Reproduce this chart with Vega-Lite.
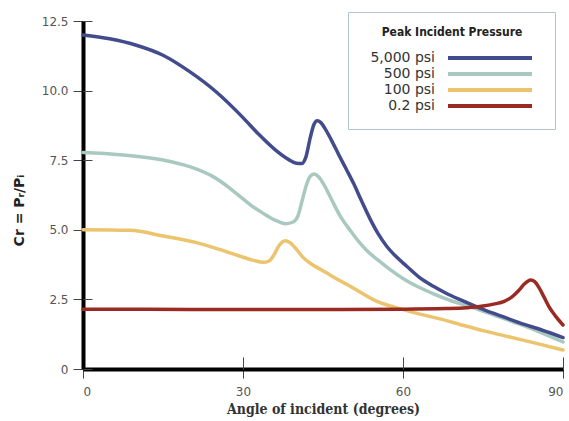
{
  "$schema": "https://vega.github.io/schema/vega-lite/v6.json",
  "width": 480,
  "height": 348,
  "autosize": {"type": "none"},
  "padding": {"left": 83, "top": 21, "right": 6, "bottom": 52},
  "background": "white",
  "config": {"view": {"stroke": null}},
  "data": {"values": [
    {"s":"100 psi","a":0,"v":5.0},{"s":"100 psi","a":8.8,"v":4.98},{"s":"100 psi","a":15,"v":4.78},{"s":"100 psi","a":21.3,"v":4.54},{"s":"100 psi","a":25.7,"v":4.29},{"s":"100 psi","a":29.3,"v":4.06},{"s":"100 psi","a":32,"v":3.9},{"s":"100 psi","a":33.8,"v":3.83},{"s":"100 psi","a":34.9,"v":3.88},{"s":"100 psi","a":35.8,"v":4.1},{"s":"100 psi","a":36.7,"v":4.42},{"s":"100 psi","a":37.9,"v":4.61},{"s":"100 psi","a":38.8,"v":4.54},{"s":"100 psi","a":40.1,"v":4.28},{"s":"100 psi","a":41.3,"v":4.0},{"s":"100 psi","a":42.6,"v":3.8},{"s":"100 psi","a":44.5,"v":3.58},{"s":"100 psi","a":46.3,"v":3.38},{"s":"100 psi","a":50.1,"v":2.97},{"s":"100 psi","a":55.1,"v":2.43},{"s":"100 psi","a":59.4,"v":2.17},{"s":"100 psi","a":63,"v":1.98},{"s":"100 psi","a":66.9,"v":1.8},{"s":"100 psi","a":70.7,"v":1.6},{"s":"100 psi","a":75,"v":1.38},{"s":"100 psi","a":80,"v":1.15},{"s":"100 psi","a":85,"v":0.92},{"s":"100 psi","a":90,"v":0.68},
    {"s":"500 psi","a":0,"v":7.78},{"s":"500 psi","a":7,"v":7.7},{"s":"500 psi","a":15,"v":7.51},{"s":"500 psi","a":20,"v":7.27},{"s":"500 psi","a":24.4,"v":6.91},{"s":"500 psi","a":27.5,"v":6.5},{"s":"500 psi","a":29.3,"v":6.22},{"s":"500 psi","a":31.5,"v":5.88},{"s":"500 psi","a":33.8,"v":5.59},{"s":"500 psi","a":36,"v":5.35},{"s":"500 psi","a":38,"v":5.22},{"s":"500 psi","a":39.4,"v":5.28},{"s":"500 psi","a":40.3,"v":5.5},{"s":"500 psi","a":41.1,"v":6.05},{"s":"500 psi","a":41.9,"v":6.62},{"s":"500 psi","a":42.6,"v":6.92},{"s":"500 psi","a":43.3,"v":7.0},{"s":"500 psi","a":44.2,"v":6.9},{"s":"500 psi","a":45.3,"v":6.58},{"s":"500 psi","a":46.7,"v":6.05},{"s":"500 psi","a":48.2,"v":5.5},{"s":"500 psi","a":50.1,"v":4.98},{"s":"500 psi","a":51.6,"v":4.6},{"s":"500 psi","a":53.2,"v":4.26},{"s":"500 psi","a":55.4,"v":3.9},{"s":"500 psi","a":57.6,"v":3.57},{"s":"500 psi","a":60,"v":3.25},{"s":"500 psi","a":62.6,"v":2.97},{"s":"500 psi","a":65.5,"v":2.72},{"s":"500 psi","a":68.8,"v":2.47},{"s":"500 psi","a":71.5,"v":2.3},{"s":"500 psi","a":74.4,"v":2.12},{"s":"500 psi","a":78,"v":1.87},{"s":"500 psi","a":82,"v":1.6},{"s":"500 psi","a":86,"v":1.3},{"s":"500 psi","a":90,"v":0.97},
    {"s":"5,000 psi","a":0,"v":12.0},{"s":"5,000 psi","a":5,"v":11.86},{"s":"5,000 psi","a":10,"v":11.63},{"s":"5,000 psi","a":15,"v":11.27},{"s":"5,000 psi","a":20,"v":10.68},{"s":"5,000 psi","a":25,"v":9.95},{"s":"5,000 psi","a":30,"v":9.03},{"s":"5,000 psi","a":33,"v":8.42},{"s":"5,000 psi","a":36,"v":7.88},{"s":"5,000 psi","a":38.5,"v":7.53},{"s":"5,000 psi","a":40,"v":7.39},{"s":"5,000 psi","a":41,"v":7.38},{"s":"5,000 psi","a":41.8,"v":7.62},{"s":"5,000 psi","a":42.6,"v":8.3},{"s":"5,000 psi","a":43.3,"v":8.78},{"s":"5,000 psi","a":43.9,"v":8.92},{"s":"5,000 psi","a":44.6,"v":8.85},{"s":"5,000 psi","a":45.5,"v":8.6},{"s":"5,000 psi","a":46.5,"v":8.25},{"s":"5,000 psi","a":48,"v":7.68},{"s":"5,000 psi","a":49.3,"v":7.2},{"s":"5,000 psi","a":50.7,"v":6.68},{"s":"5,000 psi","a":52.2,"v":6.05},{"s":"5,000 psi","a":53.8,"v":5.4},{"s":"5,000 psi","a":55.3,"v":4.87},{"s":"5,000 psi","a":56.9,"v":4.42},{"s":"5,000 psi","a":58.8,"v":4.02},{"s":"5,000 psi","a":60.7,"v":3.69},{"s":"5,000 psi","a":63,"v":3.3},{"s":"5,000 psi","a":65.7,"v":2.97},{"s":"5,000 psi","a":68,"v":2.73},{"s":"5,000 psi","a":70.7,"v":2.49},{"s":"5,000 psi","a":74.4,"v":2.19},{"s":"5,000 psi","a":78,"v":1.93},{"s":"5,000 psi","a":82,"v":1.65},{"s":"5,000 psi","a":86,"v":1.4},{"s":"5,000 psi","a":90,"v":1.13},
    {"s":"0.2 psi","a":0,"v":2.15},{"s":"0.2 psi","a":20,"v":2.14},{"s":"0.2 psi","a":40,"v":2.14},{"s":"0.2 psi","a":60,"v":2.15},{"s":"0.2 psi","a":68,"v":2.17},{"s":"0.2 psi","a":72,"v":2.2},{"s":"0.2 psi","a":75,"v":2.26},{"s":"0.2 psi","a":77,"v":2.33},{"s":"0.2 psi","a":79,"v":2.43},{"s":"0.2 psi","a":80.5,"v":2.6},{"s":"0.2 psi","a":81.7,"v":2.82},{"s":"0.2 psi","a":82.8,"v":3.06},{"s":"0.2 psi","a":83.9,"v":3.2},{"s":"0.2 psi","a":84.7,"v":3.14},{"s":"0.2 psi","a":85.5,"v":2.92},{"s":"0.2 psi","a":86.4,"v":2.6},{"s":"0.2 psi","a":87.3,"v":2.26},{"s":"0.2 psi","a":88.6,"v":1.9},{"s":"0.2 psi","a":90,"v":1.58}
  ]},
  "layer": [
    {
      "mark": {"type": "line", "interpolate": "monotone", "strokeWidth": 3.5, "strokeCap": "round"},
      "encoding": {
        "x": {"field": "a", "type": "quantitative", "scale": {"domain": [0, 90], "nice": false},
          "axis": {"values": [0, 30, 60, 90], "tickSize": 9, "tickColor": "#444", "tickWidth": 1, "domainColor": "#000", "domainWidth": 4, "grid": false,
            "labelFont": "DejaVu Sans", "labelFontSize": 12, "labelColor": "#555", "labelPadding": 8,
            "title": "Angle of incident (degrees)", "titleFont": "DejaVu Serif Condensed", "titleFontSize": 14, "titleFontWeight": "bold", "titleColor": "#333", "titlePadding": 5}},
        "y": {"field": "v", "type": "quantitative", "scale": {"domain": [0, 12.5], "nice": false},
          "axis": {"values": [0, 2.5, 5, 7.5, 10, 12.5], "labelExpr": "datum.value == 0 ? '0' : format(datum.value, '.1f')", "tickSize": 10, "tickColor": "#444", "tickWidth": 1, "domainColor": "#000", "domainWidth": 4, "grid": false,
            "labelFont": "DejaVu Sans", "labelFontSize": 12, "labelColor": "#555", "labelPadding": 5,
            "title": "Cr = Pᵣ/Pᵢ", "titleFont": "DejaVu Sans", "titleFontSize": 14, "titleFontWeight": "bold", "titleColor": "#222", "titlePadding": 15, "titleY": 189}},
        "color": {"field": "s", "type": "nominal",
          "scale": {"domain": ["5,000 psi", "500 psi", "100 psi", "0.2 psi"], "range": ["#424c8c", "#a9c9c0", "#ecc46e", "#9a2b23"]},
          "legend": {"orient": "none", "legendX": 265, "legendY": -9, "title": "Peak Incident Pressure",
            "titleFont": "DejaVu Sans Condensed", "titleFontSize": 12, "titleFontWeight": "bold", "titleColor": "#222", "titleAnchor": "middle", "titlePadding": 12,
            "labelFont": "DejaVu Sans", "labelFontSize": 14, "labelColor": "#333", "labelAlign": "right", "labelOffset": 58,
            "symbolType": "M15.6,0H32.4", "symbolSize": 100, "symbolStrokeWidth": 4, "rowPadding": 0,
            "fillColor": "white", "strokeColor": "#b3c3d3", "padding": 15}}
      }
    },
    {
      "mark": {"type": "line", "opacity": 0},
      "encoding": {
        "x": {"field": "a", "type": "quantitative", "axis": {"values": [0, 30, 60, 90], "orient": "bottom", "tickSize": -12, "tickColor": "#444", "labels": false, "domain": false, "title": null, "grid": false}},
        "y": {"field": "v", "type": "quantitative", "axis": {"values": [0, 2.5, 5, 7.5, 10, 12.5], "orient": "left", "tickSize": -9, "tickColor": "#444", "labels": false, "domain": false, "title": null, "grid": false}}
      }
    }
  ],
  "resolve": {"axis": {"x": "independent", "y": "independent"}}
}
